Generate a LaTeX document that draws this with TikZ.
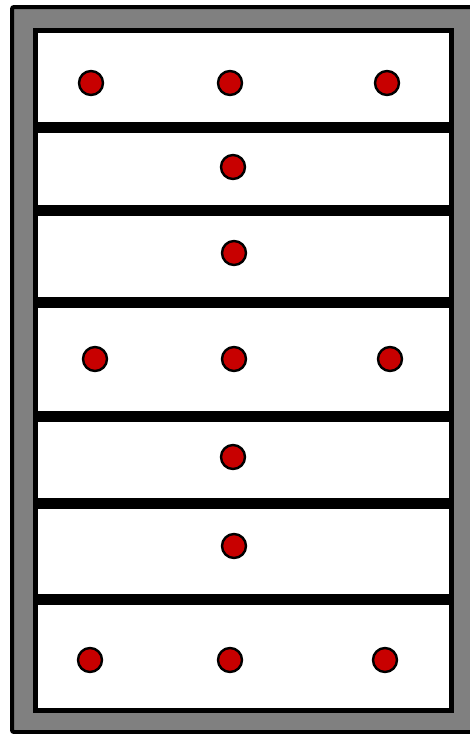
\documentclass[tikz,border=0pt]{standalone}
\usepackage{tikz}
\definecolor{framegray}{RGB}{128,128,128}
\definecolor{pegred}{RGB}{200,0,0}
\begin{document}
\begin{tikzpicture}[
  x=1pt, y=-1pt,
  frame/.style={draw=black, line width=4pt, fill=framegray, rounded corners=2pt},
  panel/.style={draw=black, line width=5pt, fill=white},
  shelf/.style={draw=black, line width=11pt},
  peg/.style={circle, draw=black, line width=2.4pt, fill=pegred,
    minimum size=24pt, inner sep=0pt}
]
\useasboundingbox (0,0) rectangle (470,734);
\clip (0,0) rectangle (470,734);

% Frame
\draw[frame] (12,7) rectangle (476,732);
\draw[panel] (35.5,30) rectangle (451,710.5);

% Shelves
\foreach \y in {127,210,302.5,416,503,599.5}
  \draw[shelf] (38,\y) -- (448.5,\y);

% Pegs
\node[peg] (p1a) at (91,83) {};
\node[peg] (p1b) at (230,83) {};
\node[peg] (p1c) at (387,83) {};
\node[peg] (p2) at (233,167) {};
\node[peg] (p3) at (234,253) {};
\node[peg] (p4a) at (95,359) {};
\node[peg] (p4b) at (234,359) {};
\node[peg] (p4c) at (390,359) {};
\node[peg] (p5) at (233,457) {};
\node[peg] (p6) at (234,546) {};
\node[peg] (p7a) at (90,660) {};
\node[peg] (p7b) at (230,660) {};
\node[peg] (p7c) at (385,660) {};
\end{tikzpicture}
\end{document}
